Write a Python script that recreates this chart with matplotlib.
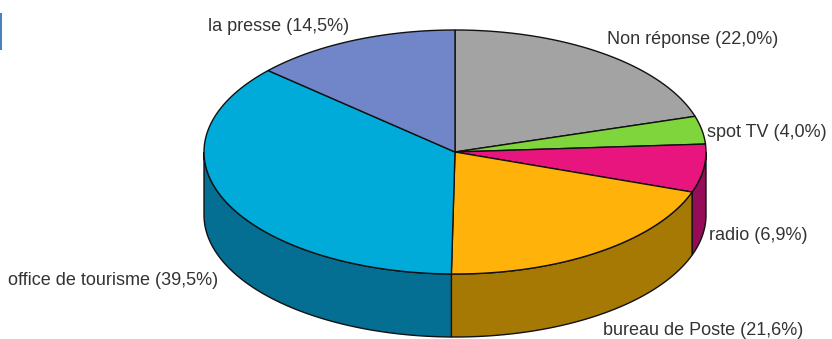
import numpy as np
import matplotlib
matplotlib.use('Agg')
import matplotlib.pyplot as plt
from matplotlib.patches import Polygon, Rectangle

labels = ['Non réponse (22,0%)', 'spot TV (4,0%)', 'radio (6,9%)', 'bureau de Poste (21,6%)',
          'office de tourisme (39,5%)', 'la presse (14,5%)']
values = [22.0, 4.0, 6.9, 21.6, 39.5, 14.5]
top_colors = ['#a3a3a3', '#7ed63c', '#e8157f', '#ffb30a', '#00aad9', '#7086c8']
side_colors = ['#6e6e6e', '#4f8a26', '#960c58', '#a67804', '#046f92', '#4a5a88']
label_pos = [(607, 44), (707, 137), (709, 240), (603, 335), (8, 285), (208, 31)]

# pie geometry in pixels
cx, cy = 455, 152
rx, ry = 251, 122
depth = 63

fig = plt.figure(figsize=(8.32, 3.39), dpi=100)
ax = fig.add_axes([0, 0, 1, 1])
ax.set_xlim(0, 832)
ax.set_ylim(339, 0)
ax.axis('off')


def arc(a0, a1, n=200):
    t = np.radians(np.linspace(a0, a1, n))
    return cx + rx * np.sin(t), cy - ry * np.cos(t)


# clockwise angles from the top, one wedge per value
edges = np.concatenate([[0], np.cumsum(values)]) / sum(values) * 360

# outer wall, only the front half (90..270 deg) is visible
for i in range(len(values)):
    a0, a1 = max(edges[i], 90), min(edges[i + 1], 270)
    if a1 <= a0:
        continue
    x, y = arc(a0, a1)
    pts = np.vstack([np.c_[x, y], np.c_[x[::-1], y[::-1] + depth]])
    ax.add_patch(Polygon(pts, facecolor=side_colors[i], edgecolor='#111111', lw=1.0, zorder=2))

# top wedges
for i in range(len(values)):
    x, y = arc(edges[i], edges[i + 1])
    pts = np.vstack([[cx, cy], np.c_[x, y]])
    ax.add_patch(Polygon(pts, facecolor=top_colors[i], edgecolor='#111111', lw=1.0, zorder=3))

for lab, (px, py) in zip(labels, label_pos):
    ax.text(px, py, lab, fontsize=13, family='Liberation Sans', color='#333333',
            ha='left', va='baseline', zorder=5)

# small blue mark on the left edge
ax.add_patch(Rectangle((0, 13), 2, 37, facecolor='#4a80c0', edgecolor='none', zorder=4))

fig.savefig('out.png', dpi=100)
